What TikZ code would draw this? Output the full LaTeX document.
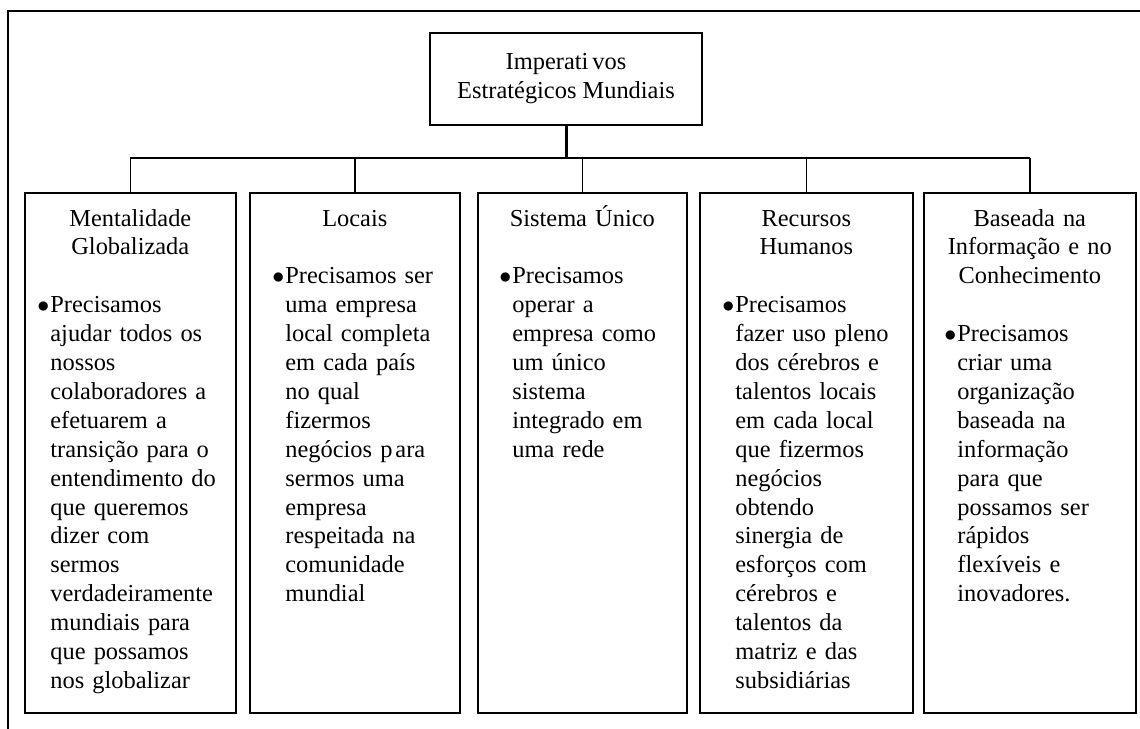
\documentclass[tikz,border=0pt]{standalone}
\usepackage{fontspec}
\setmainfont{Liberation Serif}
\usetikzlibrary{positioning}

\newcommand{\itembul}{\llap{$\bullet$\kern0.5pt}}

\begin{document}
\begin{tikzpicture}[
    x=0.5pt, y=-0.5pt,
    every node/.style={font=\fontsize{12.2}{14.45}\selectfont},
    link/.style={line width=0.8pt},
    headbox/.style={
        draw,
        line width=0.8pt,
        minimum width=136pt,
        minimum height=46pt,
        align=center,
        inner sep=0pt
    },
    chartbox/.style={
        draw,
        line width=0.8pt,
        anchor=north west,
        minimum width=#1,
        minimum height=260pt,
        inner sep=0pt
    },
    boxtitle/.style={anchor=base, align=center, text width=100pt, inner sep=0pt},
    bulletlist/.style={anchor=base west, align=left, text width=100pt, inner sep=0pt}
]
    \useasboundingbox (0,0) rectangle (1140,728);
    % moldura externa (so topo e esquerda aparecem)
    \draw[line width=0.9pt] (8,740) -- (8,11) -- (1150,11);

    \node[headbox] (top) at (566,79) {Imperati\kern2pt vos\\Estratégicos Mundiais};

    \node[chartbox=105.5pt] (b1) at (24,192) {};
    \node[chartbox=105pt]   (b2) at (249,192) {};
    \node[chartbox=104.5pt] (b3) at (477,192) {};
    \node[chartbox=106.5pt] (b4) at (699,192) {};
    \node[chartbox=106pt]   (b5) at (923,192) {};

    \coordinate (jn) at (566,158);
    \draw[line width=1.5pt] (top.south) -- (jn);
    \draw[link] (b1.north |- jn) -- (b5.north |- jn);
    \foreach \i in {1,...,5}
        \draw[link] (jn -| b\i.north) -- (b\i.north);

    % titulos
    \node[boxtitle] (t1) at (b1.north |- 0,226) {Mentalidade\\Globalizada};
    \node[boxtitle] (t2) at (b2.north |- 0,226) {Locais};
    \node[boxtitle] (t3) at (b3.north |- 0,226) {Sistema Único};
    \node[boxtitle] (t4) at (b4.north |- 0,226) {Recursos\\Humanos};
    \node[boxtitle] (t5) at (b5.north |- 0,226) {Baseada na\\Informação e no\\Conhecimento};

    % textos com marcador
    \node[bulletlist] (p1) at (50,312.7) {\itembul Precisamos\\ajudar todos os\\nossos\\colaboradores a\\efetuarem a\\transição para o\\entendimento do\\que queremos\\dizer com\\sermos\\verdadeiramente\\mundiais para\\que possamos\\nos globalizar};
    \node[bulletlist] (p2) at (285,283.8) {\itembul Precisamos ser\\uma empresa\\local completa\\em cada país\\no qual\\fizermos\\negócios p\kern1.5pt ara\\sermos uma\\empresa\\respeitada na\\comunidade\\mundial};
    \node[bulletlist] (p3) at (512,283.8) {\itembul Precisamos\\operar a\\empresa como\\um único\\sistema\\integrado em\\uma rede};
    \node[bulletlist] (p4) at (735,312.7) {\itembul Precisamos\\fazer uso pleno\\dos cérebros e\\talentos locais\\em cada local\\que fizermos\\negócios\\obtendo\\sinergia de\\esforços com\\cérebros e\\talentos da\\matriz e das\\subsidiárias};
    \node[bulletlist] (p5) at (957,341.6) {\itembul Precisamos\\criar uma\\organização\\baseada na\\informação\\para que\\possamos ser\\rápidos\\flexíveis e\\inovadores.};
\end{tikzpicture}
\end{document}
